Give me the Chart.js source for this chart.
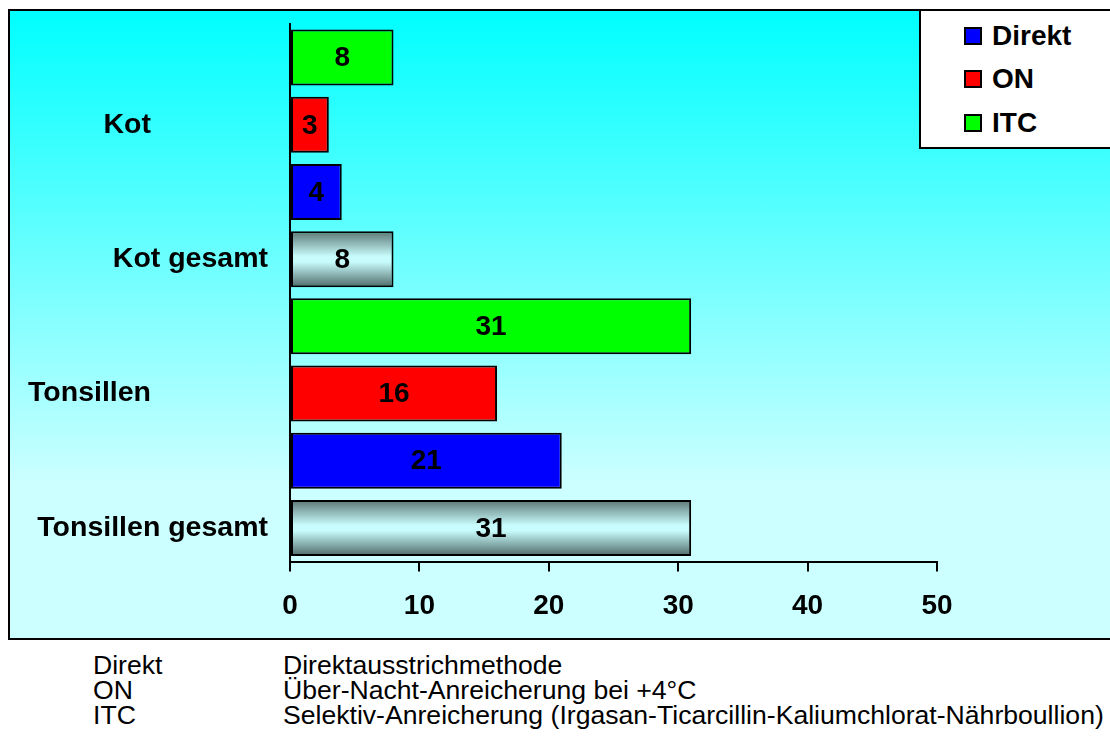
<!DOCTYPE html>
<html>
<head>
<meta charset="utf-8">
<script src="https://cdn.jsdelivr.net/npm/chart.js@4"></script>
<style>
  html, body { margin: 0; padding: 0; background: #fff; overflow: hidden; }
  body { width: 1110px; height: 740px; position: relative; font-family: "Liberation Sans", Arial, sans-serif; }
  #frame {
    position: absolute; left: 8px; top: 9px; width: 1120px; height: 631px;
    box-sizing: border-box; border: 2px solid #000;
    background: linear-gradient(to bottom, #00ffff 0%, #ccffff 75%, #ccffff 100%);
  }
  #chart { position: absolute; left: 0; top: 0; }
  #legend {
    position: absolute; left: 919px; top: 9px; width: 220px; height: 140px;
    box-sizing: border-box; border: 2px solid #000; background: #fff;
    padding-top: 3px;
  }
  #legend .item {
    height: 43.5px; display: flex; align-items: center;
    font-weight: bold; font-size: 28px; color: #000;
  }
  #legend .swatch {
    width: 18px; height: 18px; box-sizing: border-box; border: 2px solid #000;
    margin-left: 43px; margin-right: 10px;
  }
  #notes { position: absolute; left: 93px; top: 653px; font-size: 26.6px; line-height: 25px; color: #000; }
  #notes .row { display: flex; white-space: nowrap; }
  #notes .key { width: 190px; }
</style>
</head>
<body>
<div id="frame"></div>
<canvas id="chart" width="1110" height="640"></canvas>
<div id="legend"></div>
<div id="notes"></div>
<script>
// one row per bar, top to bottom
const rowLabels = ['', 'Kot', '', 'Kot gesamt', '', 'Tonsillen', '', 'Tonsillen gesamt'];
const rowSeries = ['ITC', 'ON', 'Direkt', 'gesamt', 'ITC', 'ON', 'Direkt', 'gesamt'];
const rowValues = [8, 3, 4, 8, 31, 16, 21, 31];
const xTicks = [0, 10, 20, 30, 40, 50];

const seriesNames = ['Direkt', 'ON', 'ITC'];
const seriesColors = { Direkt: '#0000ff', ON: '#ff0000', ITC: '#00ff00' };
const noteKeys = ['Direkt', 'ON', 'ITC'];
const noteTexts = [
  'Direktausstrichmethode',
  'Über-Nacht-Anreicherung bei +4°C',
  'Selektiv-Anreicherung (Irgasan-Ticarcillin-Kaliumchlorat-Nährboullion)'
];

const FONT = '"Liberation Sans", Arial, sans-serif';
const BAR_PCT = 0.834;

// legend + notes as html
const legendEl = document.getElementById('legend');
seriesNames.forEach(name => {
  const item = document.createElement('div');
  item.className = 'item';
  item.innerHTML = '<span class="swatch" style="background:' + seriesColors[name] + '"></span>' + name;
  legendEl.appendChild(item);
});
const notesEl = document.getElementById('notes');
noteKeys.forEach((k, i) => {
  const row = document.createElement('div');
  row.className = 'row';
  row.innerHTML = '<span class="key">' + k + '</span><span>' + noteTexts[i] + '</span>';
  notesEl.appendChild(row);
});

function barColor(c) {
  const s = rowSeries[c.dataIndex];
  if (s !== 'gesamt') return seriesColors[s];
  const chart = c.chart;
  const area = chart.chartArea;
  const yScale = chart.scales.y;
  if (!area || !yScale) return '#9fbfbd';
  const mid = yScale.getPixelForValue(c.dataIndex);
  const half = (area.bottom - area.top) / rowValues.length * BAR_PCT / 2;
  const g = chart.ctx.createLinearGradient(0, mid - half, 0, mid + half);
  g.addColorStop(0, '#5a7674');
  g.addColorStop(0.45, '#c8fcfc');
  g.addColorStop(0.55, '#c8fcfc');
  g.addColorStop(1, '#4e6a68');
  return g;
}

const barLabels = {
  id: 'barLabels',
  afterDatasetsDraw(chart) {
    const ctx = chart.ctx;
    const meta = chart.getDatasetMeta(0);
    ctx.save();
    ctx.font = 'bold 28px ' + FONT;
    ctx.fillStyle = '#000';
    ctx.textAlign = 'center';
    ctx.textBaseline = 'middle';
    meta.data.forEach((bar, i) => {
      ctx.fillText(String(rowValues[i]), (bar.x + bar.base) / 2, bar.y + 1);
    });
    ctx.restore();
  }
};

const categoryLabels = {
  id: 'categoryLabels',
  afterDraw(chart) {
    const ctx = chart.ctx;
    const yScale = chart.scales.y;
    ctx.save();
    ctx.font = 'bold 28.5px ' + FONT;
    ctx.fillStyle = '#000';
    ctx.textAlign = 'right';
    ctx.textBaseline = 'middle';
    rowLabels.forEach((label, i) => {
      if (!label) return;
      const right = rowSeries[i] === 'gesamt' ? 268 : 151;
      ctx.fillText(label, right, yScale.getPixelForValue(i));
    });
    ctx.restore();
  }
};

Chart.defaults.font.family = FONT;

new Chart(document.getElementById('chart'), {
  type: 'bar',
  data: {
    labels: rowLabels,
    datasets: [{
      data: rowValues,
      backgroundColor: barColor,
      borderColor: '#000',
      borderWidth: 2,
      borderSkipped: false,
      barPercentage: BAR_PCT,
      categoryPercentage: 1.0
    }]
  },
  options: {
    indexAxis: 'y',
    responsive: false,
    animation: false,
    layout: { padding: { top: 24, right: 173, bottom: 0, left: 0 } },
    plugins: { legend: { display: false }, tooltip: { enabled: false } },
    scales: {
      x: {
        min: 0,
        max: 50,
        afterBuildTicks: scale => { scale.ticks = xTicks.map(v => ({ value: v })); },
        afterFit: scale => { scale.height = 78.5; },
        grid: { drawOnChartArea: false, drawTicks: true, tickLength: 10, color: '#000', lineWidth: 2 },
        border: { display: true, color: '#000', width: 2 },
        ticks: { color: '#000', padding: 18, font: { size: 28, weight: 'bold' } }
      },
      y: {
        grid: { display: false },
        border: { display: true, color: '#000', width: 2 },
        ticks: { display: false },
        afterFit: scale => { scale.width = 290; }
      }
    }
  },
  plugins: [barLabels, categoryLabels]
});
</script>
</body>
</html>
